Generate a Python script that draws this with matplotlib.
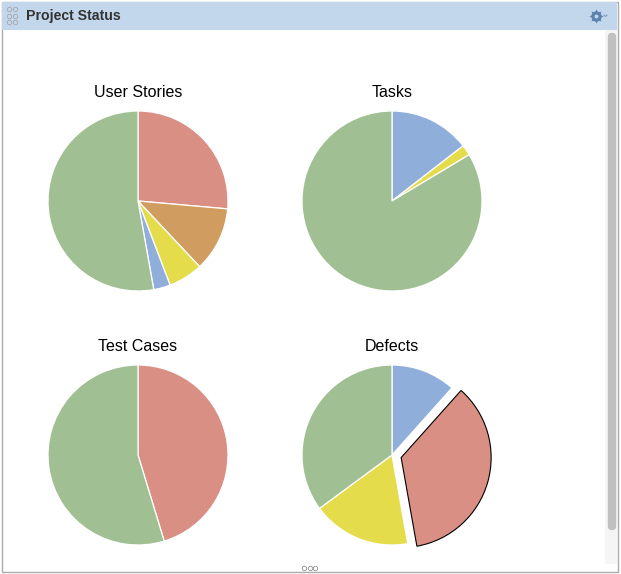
import matplotlib
matplotlib.use("Agg")
import matplotlib.pyplot as plt
from matplotlib.patches import Rectangle, FancyBboxPatch

plt.rcParams['font.family'] = ['Liberation Sans', 'DejaVu Sans']

panel_title = "Project Status"
chart_titles = ["User Stories", "Tasks", "Test Cases", "Defects"]

green = "#A0C093"
red = "#DA8F85"
orange = "#D19C5F"
yellow = "#E5DC4C"
blue = "#90AEDA"

story_values = [26.4, 11.6, 6.2, 3.0, 52.8]
story_colors = [red, orange, yellow, blue, green]
task_values = [14.5, 1.9, 83.6]
task_colors = [blue, yellow, green]
test_values = [45.3, 54.7]
test_colors = [red, green]
defect_values = [11.6, 35.6, 17.7, 35.1]
defect_colors = [blue, red, yellow, green]

W, H = 621, 574
fig = plt.figure(figsize=(W/100, H/100), dpi=100)
ax = fig.add_axes([0, 0, 1, 1])
ax.set_xlim(0, W)
ax.set_ylim(H, 0)
ax.axis('off')

# panel frame and header
ax.add_patch(Rectangle((1.5, 1.5), 616, 570, fc='white', ec='#ABABAB', lw=1, zorder=1))
ax.add_patch(Rectangle((2, 2), 615, 27.5, fc='#C3D7EC', ec='none', zorder=2))
ax.text(26, 16, panel_title, fontsize=10.2, fontweight='bold', color='#333333', va='center', zorder=3)

# grip dots
for gx in [9, 14.5]:
    for gy in [9, 15.5, 22]:
        ax.plot(gx, gy, 'o', ms=3.2, mfc='none', mec='#A8A8A8', mew=0.6, zorder=3)
for gx in [304, 309.5, 315]:
    ax.plot(gx, 567.7, 'o', ms=3.2, mfc='none', mec='#8F8F8F', mew=0.6, zorder=3)

# gear menu
ax.plot(596, 15.5, marker=(8, 1, 0), ms=10.5, color='#5B82AE', mew=0, zorder=3)
ax.plot(596, 15.5, 'o', ms=7.5, color='#5B82AE', mew=0, zorder=3)
ax.plot(596, 15.5, 'o', ms=2.8, color='#C3D7EC', mew=0, zorder=4)
ax.plot([604, 605.5, 607], [15, 16.5, 15], color='#7F9DBF', lw=0.8, zorder=3)

# scrollbar
ax.add_patch(Rectangle((605, 30), 12, 534, fc='#F5F5F5', ec='none', zorder=2))
ax.add_patch(FancyBboxPatch((608.5, 33.5), 7, 496, boxstyle="round,pad=0,rounding_size=3.5",
                            fc='#C0C0C0', ec='#C0C0C0', lw=1, zorder=3))

# pies live on their own axes so y stays up
def pie_axes(cx, cy):
    size = 230
    return fig.add_axes([(cx-size/2)/W, 1-(cy+size/2)/H, size/W, size/H])

positions = [(138, 201), (392, 201), (138, 455), (392, 455)]
all_values = [story_values, task_values, test_values, defect_values]
all_colors = [story_colors, task_colors, test_colors, defect_colors]
title_y = [92.5, 92.5, 346.5, 346.5]
radius = 90
defect_pull = [0, 9.5, 0, 0]  # matplotlib takes explode in data units here

for i in range(4):
    cx, cy = positions[i]
    pax = pie_axes(cx, cy)
    pax.patch.set_alpha(0)
    wedges, _ = pax.pie(all_values[i], colors=all_colors[i], startangle=90, counterclock=False,
                        radius=radius, center=(0, 0),
                        explode=defect_pull if i == 3 else None,
                        wedgeprops=dict(edgecolor='white', linewidth=0.9))
    pax.set_xlim(-115, 115)
    pax.set_ylim(-115, 115)
    pax.set_aspect('equal')
    if i == 3:
        wedges[1].set_edgecolor('black')
        wedges[1].set_linewidth(0.8)
    ax.text(cx, title_y[i], chart_titles[i], fontsize=11.5, ha='center', va='center', color='black', zorder=3)

fig.savefig("out.png", dpi=100)
